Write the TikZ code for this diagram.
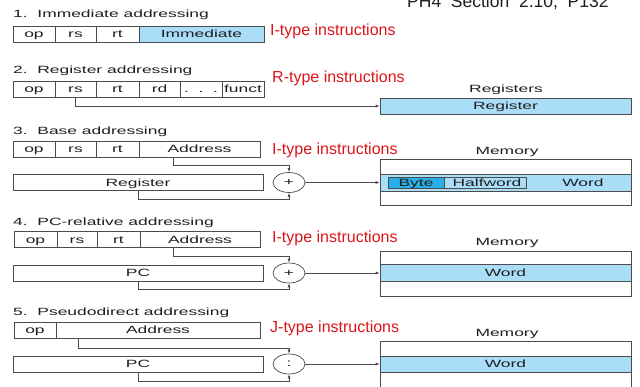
\documentclass[tikz,border=0pt]{standalone}
\usepackage{fontspec}
\setmainfont{Liberation Sans}
\newfontfamily\diagfont[FakeStretch=1.66]{Liberation Sans}
\newcommand\diag{\diagfont\fontsize{10.5}{12}\selectfont}
\newcommand\typefont{\fontsize{16}{18}\selectfont}
\newcommand\srcfont{\fontsize{17.5}{20}\selectfont}
\usetikzlibrary{shapes.geometric,arrows.meta}
\definecolor{linegray}{RGB}{75,75,75}
\definecolor{textgray}{RGB}{30,30,30}
\definecolor{fieldblue}{RGB}{170,221,247}
\definecolor{bytecyan}{RGB}{40,175,232}
\definecolor{typered}{RGB}{220,20,25}

\begin{document}
\begin{tikzpicture}[x=1pt,y=-1pt]
\tikzset{field/.style = {shape=rectangle,draw=linegray,line width=0.7pt,minimum height=16,inner sep=0pt,text height=7.6,text depth=0,text=textgray,font=\diag}}
\tikzset{adder/.style = {shape=ellipse,draw=linegray,line width=0.7pt,minimum width=32,minimum height=20,inner sep=0pt,text=textgray,font=\diag}}
\tikzset{edge/.style = {draw=linegray,line width=0.7pt,-{Latex[length=4pt,width=3pt]}}}
\tikzset{kind/.style = {anchor=west,inner sep=0pt,text=typered,font=\typefont}}
\tikzset{heading/.style = {anchor=west,inner sep=0pt,text=textgray,font=\diag}}
\tikzset{plain/.style = {inner sep=0pt,text height=7.6,text depth=0,text=textgray,font=\diag}}
\useasboundingbox (0,0) rectangle (640,387);
\node[anchor=base west,inner sep=0pt,text=textgray,font=\srcfont] (src) at (407,7.5) {PH4~~Section~~2.10,~~P132};
% 1. immediate
\node[heading] (t1) at (13,15) {1.\ \ Immediate addressing};
\node[field,minimum width=42] (op1) at (34,34) {op};
\node[field,minimum width=41] (rs1) at (75.5,34) {rs};
\node[field,minimum width=43] (rt1) at (117.5,34) {rt};
\node[field,fill=fieldblue,minimum width=125] (imm1) at (201.5,34) {Immediate};
\node[kind] (k1) at (270,31) {I-type instructions};
% 2. register
\node[heading] (t2) at (13,71) {2.\ \ Register addressing};
\node[field,minimum width=42] (op2) at (34,89) {op};
\node[field,minimum width=41] (rs2) at (75.5,89) {rs};
\node[field,minimum width=43] (rt2) at (117.5,89) {rt};
\node[field,minimum width=41] (rd2) at (159.5,89) {rd};
\node[field,minimum width=42] (dots2) at (201,89) {.\ \ .\ \ .};
\node[field,minimum width=42] (funct2) at (243,89) {funct};
\node[kind] (k2) at (272,78) {R-type instructions};
\node[plain] (regs2) at (506,89) {Registers};
\node[field,fill=fieldblue,minimum width=251] (reg2) at (505.5,106) {Register};
\draw[edge] (rs2.south) |- (reg2.west);
% 3. base
\node[heading] (t3) at (13,132) {3.\ \ Base addressing};
\node[field,minimum width=42] (op3) at (34,149) {op};
\node[field,minimum width=41] (rs3) at (75.5,149) {rs};
\node[field,minimum width=43] (rt3) at (117.5,149) {rt};
\node[field,minimum width=121] (addr3) at (199.5,149) {Address};
\node[kind] (k3) at (272,150) {I-type instructions};
\node[field,minimum width=250] (base3) at (138,182.5) {Register};
\node[adder] (add3) at (289,182.5) {+};
\node[plain] (mlab3) at (507,151) {Memory};
\node[field,minimum width=251,minimum height=46] (mem3) at (505.5,182) {};
\node[field,fill=fieldblue,minimum width=251,minimum height=17] (word3) at (505.5,182.5) {};
\node[field,minimum width=138,minimum height=11] (half3) at (457,182.5) {};
\node[field,fill=bytecyan,minimum width=56,minimum height=11] (byte3) at (416,182.5) {Byte};
\node[plain] (halftext3) at (487,182.5) {Halfword};
\node[plain] (wordtext3) at (583,182.5) {Word};
\draw[edge] ([xshift=-26.5]addr3.south) -- ++(0,8) -| (add3.north);
\draw[edge] (base3.south) -- ++(0,8.5) -| (add3.south);
\draw[edge] (add3.east) -- (word3.west);
% 4. pc-relative
\node[heading] (t4) at (13,223) {4.\ \ PC-relative addressing};
\node[field,minimum width=43] (op4) at (35.5,239.5) {op};
\node[field,minimum width=40] (rs4) at (77,239.5) {rs};
\node[field,minimum width=43] (rt4) at (118.5,239.5) {rt};
\node[field,minimum width=120] (addr4) at (200,239.5) {Address};
\node[kind] (k4) at (272,238) {I-type instructions};
\node[field,minimum width=250] (pc4) at (138,273) {PC};
\node[adder] (add4) at (289,273) {+};
\node[plain] (mlab4) at (507,242) {Memory};
\node[field,minimum width=251,minimum height=45] (mem4) at (505.5,273.5) {};
\node[field,fill=fieldblue,minimum width=251,minimum height=17] (word4) at (505.5,273) {Word};
\draw[edge] ([xshift=-27]addr4.south) -- ++(0,8.5) -| (add4.north);
\draw[edge] (pc4.south) -- ++(0,8) -| (add4.south);
\draw[edge] (add4.east) -- (word4.west);
% 5. pseudodirect
\node[heading] (t5) at (13,313) {5.\ \ Pseudodirect addressing};
\node[field,minimum width=42] (op5) at (35,330) {op};
\node[field,minimum width=204] (addr5) at (158,330) {Address};
\node[kind] (k5) at (270,328) {J-type instructions};
\node[field,minimum width=250] (pc5) at (138,364) {PC};
\node[adder] (add5) at (289,364) {:};
\node[plain] (mlab5) at (507,333) {Memory};
\node[field,minimum width=251,minimum height=46] (mem5) at (505.5,364) {};
\node[field,fill=fieldblue,minimum width=251,minimum height=16] (word5) at (505.5,364) {Word};
\draw[edge] ([xshift=-80]addr5.south) -- ++(0,10) -| (add5.north);
\draw[edge] (pc5.south) -- ++(0,9) -| (add5.south);
\draw[edge] (add5.east) -- (word5.west);
\end{tikzpicture}
\end{document}
